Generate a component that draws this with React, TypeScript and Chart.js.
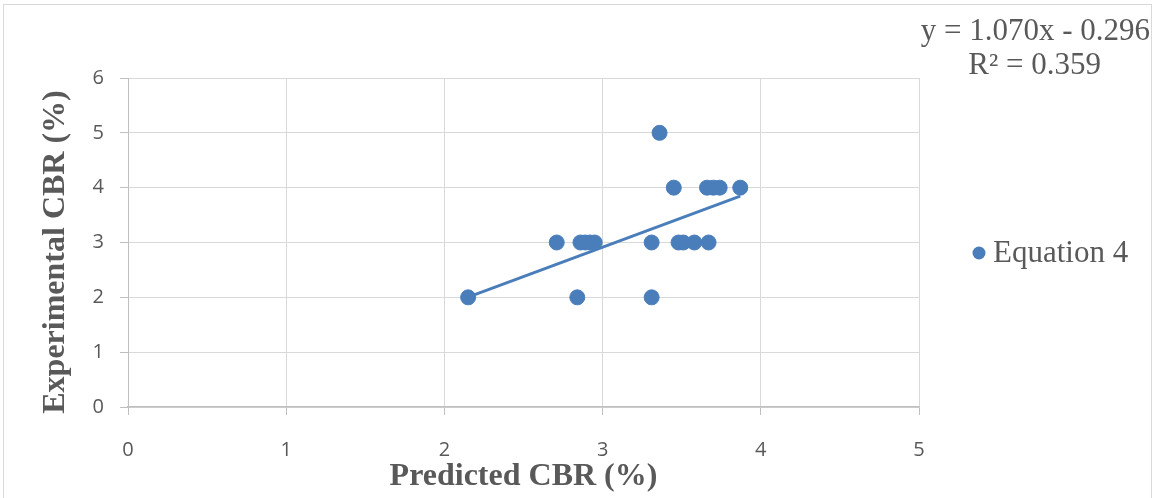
import React, { useEffect, useRef } from "react";
import { Chart, registerables } from "chart.js";

Chart.register(...registerables);

const seriesName = "Equation 4";
const predictedCBR = [2.15, 2.84, 3.31, 2.71, 2.86, 2.89, 2.92, 2.95, 3.31, 3.48, 3.51, 3.58, 3.67, 3.45, 3.66, 3.70, 3.74, 3.87, 3.36];
const experimentalCBR = [2, 2, 2, 3, 3, 3, 3, 3, 3, 3, 3, 3, 3, 4, 4, 4, 4, 4, 5];
const trendSlope = 1.07;
const trendIntercept = -0.296;
const equationText = "y = 1.070x - 0.296";
const r2Text = "R² = 0.359";
const xTitle = "Predicted CBR (%)";
const yTitle = "Experimental CBR (%)";
const xTicks = [0, 1, 2, 3, 4, 5];
const yTicks = [0, 1, 2, 3, 4, 5, 6];

const BLUE = "#4a7ebb";
const GRAY_TEXT = "#595959";
const TICK_FONT = "'Open Sans', 'Liberation Sans Narrow', sans-serif";
const SERIF = "'Liberation Serif', 'Times New Roman', serif";

export default function App() {
  const ref = useRef<HTMLCanvasElement | null>(null);
  useEffect(() => {
    document.body.style.margin = "0";
    const xMin = Math.min(...predictedCBR);
    const xMax = Math.max(...predictedCBR);
    const trend = [
      { x: xMin, y: trendSlope * xMin + trendIntercept },
      { x: xMax, y: trendSlope * xMax + trendIntercept },
    ];
    const points = predictedCBR.map((x, i) => ({ x, y: experimentalCBR[i] }));
    const overlay = {
      id: "overlay",
      afterDraw(chart: any) {
        const ctx = chart.ctx;
        ctx.save();
        ctx.strokeStyle = "#d9d9d9";
        ctx.lineWidth = 1;
        ctx.strokeRect(3.5, 4.5, 1148, 510);
        ctx.fillStyle = GRAY_TEXT;
        ctx.font = "31px " + SERIF;
        ctx.textAlign = "right";
        ctx.textBaseline = "middle";
        ctx.fillText(equationText, 1150, 32);
        ctx.fillText(r2Text, 1101, 66);
        ctx.beginPath();
        ctx.fillStyle = BLUE;
        ctx.arc(979, 253, 6.5, 0, Math.PI * 2);
        ctx.fill();
        ctx.fillStyle = GRAY_TEXT;
        ctx.textAlign = "left";
        ctx.fillText(seriesName, 993, 254);
        // y axis title
        ctx.translate(56, 252);
        ctx.rotate(-Math.PI / 2);
        ctx.textAlign = "center";
        ctx.textBaseline = "middle";
        ctx.font = "bold 32px " + SERIF;
        ctx.fillText(yTitle, 0, 0);
        ctx.restore();
      },
    };
    const chart = new Chart(ref.current as HTMLCanvasElement, {
      type: "scatter",
      data: {
        datasets: [
          {
            label: "Trendline",
            data: trend,
            showLine: true,
            borderColor: BLUE,
            borderWidth: 3,
            pointRadius: 0,
            order: 2,
          } as any,
          {
            label: seriesName,
            data: points,
            backgroundColor: BLUE,
            borderColor: BLUE,
            pointRadius: 7.5,
            pointHoverRadius: 7.5,
            order: 1,
          },
        ],
      },
      options: {
        animation: false,
        responsive: false,
        layout: { padding: { left: 36, top: 78, right: 236, bottom: 0 } },
        plugins: { legend: { display: false }, tooltip: { enabled: false } },
        scales: {
          x: {
            type: "linear",
            min: 0,
            max: 5,
            afterBuildTicks: (s: any) => { s.ticks = xTicks.map((v) => ({ value: v })); },
            afterFit: (s: any) => { s.height = 91; },
            grid: { color: "#d9d9d9", lineWidth: 1, drawTicks: true, tickLength: 8, tickColor: "#bfbfbf" },
            border: { color: "#bfbfbf", width: 1.5 },
            ticks: { color: GRAY_TEXT, padding: 23, font: { family: TICK_FONT, size: 20 } },
            title: {
              display: true,
              text: xTitle,
              color: GRAY_TEXT,
              font: { family: SERIF, size: 32, weight: "bold" },
              padding: { top: 0, bottom: 2 },
            },
          },
          y: {
            type: "linear",
            min: 0,
            max: 6,
            afterBuildTicks: (s: any) => { s.ticks = yTicks.map((v) => ({ value: v })); },
            afterFit: (s: any) => { s.width = 92; },
            grid: { color: "#d9d9d9", lineWidth: 1, drawTicks: true, tickLength: 8, tickColor: "#bfbfbf" },
            border: { color: "#bfbfbf", width: 1 },
            ticks: { color: GRAY_TEXT, padding: 16, font: { family: TICK_FONT, size: 20 } },
            title: { display: false },
          },
        },
      },
      plugins: [overlay],
    });
    return () => chart.destroy();
  }, []);
  return (
    <div style={{ width: 1155, height: 498, background: "#fff" }}>
      <canvas ref={ref} width={1155} height={498} style={{ display: "block" }} />
    </div>
  );
}
